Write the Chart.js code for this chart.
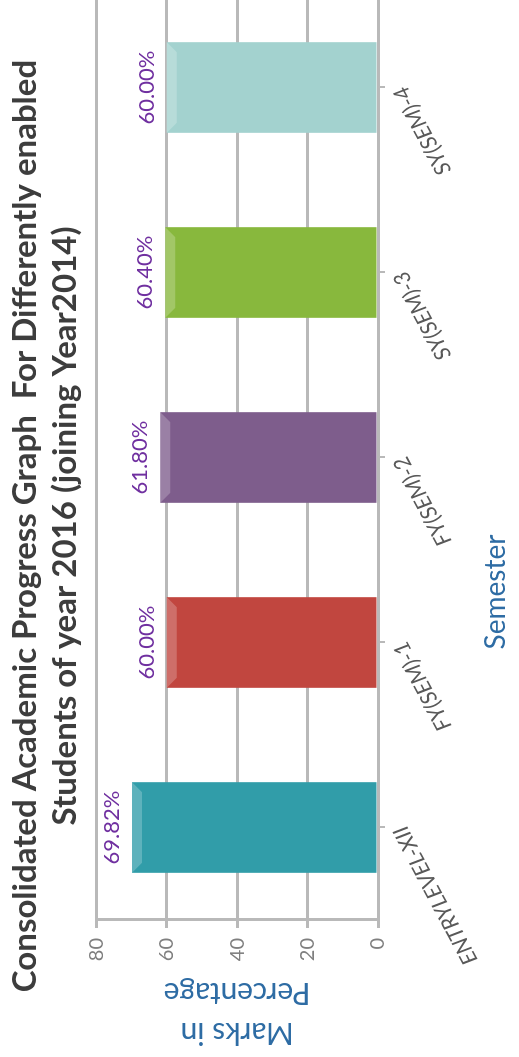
<!DOCTYPE html>
<html>
<head>
<meta charset="utf-8">
<script src="https://cdn.jsdelivr.net/npm/chart.js@4/dist/chart.umd.min.js"></script>
<style>
  html, body { margin: 0; padding: 0; background: #fff; overflow: hidden; }
  body { width: 519px; height: 1057px; position: relative; }
  /* the reference is a landscape chart turned a quarter turn to the left */
  #wrap {
    position: absolute; left: 0; top: 0;
    width: 1062px; height: 519px;
    transform-origin: 0 0;
    transform: translate(0, 1057px) rotate(-90deg);
  }
</style>
</head>
<body>
<div id="wrap"><canvas id="progressChart"></canvas></div>
<script>
const semesters = ['ENTRYLEVEL-XII', 'FY(SEM)-1', 'FY(SEM)-2', 'SY(SEM)-3', 'SY(SEM)-4'];
const marks = [69.82, 60.00, 61.80, 60.40, 60.00];
const barColors = ['#319da9', '#c1463f', '#7e5d8c', '#88b83d', '#a3d2cf'];
const titleLines = ['Consolidated Academic Progress Graph  For Differently enabled', 'Students of year 2016 (joining Year2014)'];
const yTitle = ['Marks in', 'Percentage'];
const xTitle = 'Semester';

const gridGray = '#b9b9b9';
const blue = '#2e6ca4';

// light bevel on top of every bar
const bevelPlugin = {
    id: 'bevel',
    afterDatasetsDraw(chart) {
        const ctx = chart.ctx;
        chart.getDatasetMeta(0).data.forEach(bar => {
            const { x, y, width } = bar.getProps(['x', 'y', 'width'], true);
            const l = x - width / 2, r = x + width / 2, b = 10;
            ctx.save();
            ctx.fillStyle = 'rgba(255,255,255,0.22)';
            ctx.beginPath();
            ctx.moveTo(l, y);
            ctx.lineTo(r, y);
            ctx.lineTo(r - b, y + b);
            ctx.lineTo(l + b, y + b);
            ctx.closePath();
            ctx.fill();
            ctx.restore();
        });
    }
};

// value labels above bars + the x axis title
const labelPlugin = {
    id: 'valueLabels',
    afterDraw(chart) {
        const ctx = chart.ctx;
        ctx.save();
        ctx.font = '22px Lato';
        ctx.fillStyle = '#7030a0';
        ctx.textAlign = 'center';
        ctx.textBaseline = 'bottom';
        chart.getDatasetMeta(0).data.forEach((bar, i) => {
            ctx.fillText(marks[i].toFixed(2) + '%', bar.x, bar.y - 9);
        });
        ctx.font = '28px Lato';
        ctx.fillStyle = blue;
        ctx.textBaseline = 'middle';
        ctx.fillText(xTitle, 465, 496);
        ctx.restore();
    }
};

new Chart(document.getElementById('progressChart').getContext('2d'), {
    type: 'bar',
    data: {
        labels: semesters,
        datasets: [{
            data: marks,
            backgroundColor: barColors,
            borderWidth: 0,
            barPercentage: 0.49,
            categoryPercentage: 1
        }]
    },
    options: {
        responsive: true,
        maintainAspectRatio: false,
        animation: false,
        layout: { padding: 0 },
        plugins: {
            legend: { display: false },
            tooltip: { enabled: false },
            title: {
                display: true,
                text: titleLines,
                color: '#3d3d3d',
                font: { family: 'Lato', size: 33, weight: 'bold', lineHeight: 1.2 },
                padding: { top: 6, bottom: 11 }
            }
        },
        scales: {
            x: {
                grid: { display: true, drawOnChartArea: false, offset: false, color: gridGray, lineWidth: 2, tickLength: 7 },
                border: { display: true, color: gridGray, width: 3 },
                ticks: {
                    color: '#595959',
                    font: { family: 'Lato', size: 22, style: 'italic' },
                    minRotation: 28, maxRotation: 28, padding: 3
                },
                afterFit(scale) { scale.height = 141; }
            },
            y: {
                min: 0, max: 80,
                ticks: { stepSize: 20, color: '#7f7f7f', font: { family: 'Lato', size: 20 }, padding: 10 },
                grid: { color: gridGray, lineWidth: 3, tickLength: 8 },
                border: { display: true, color: gridGray, width: 3 },
                title: {
                    display: true,
                    text: yTitle,
                    color: blue,
                    font: { family: 'Lato', size: 30, lineHeight: 1.33 },
                    padding: { top: 4, bottom: 0 }
                },
                afterFit(scale) { scale.width = 137; }
            }
        }
    },
    plugins: [bevelPlugin, labelPlugin]
});
</script>
</body>
</html>
